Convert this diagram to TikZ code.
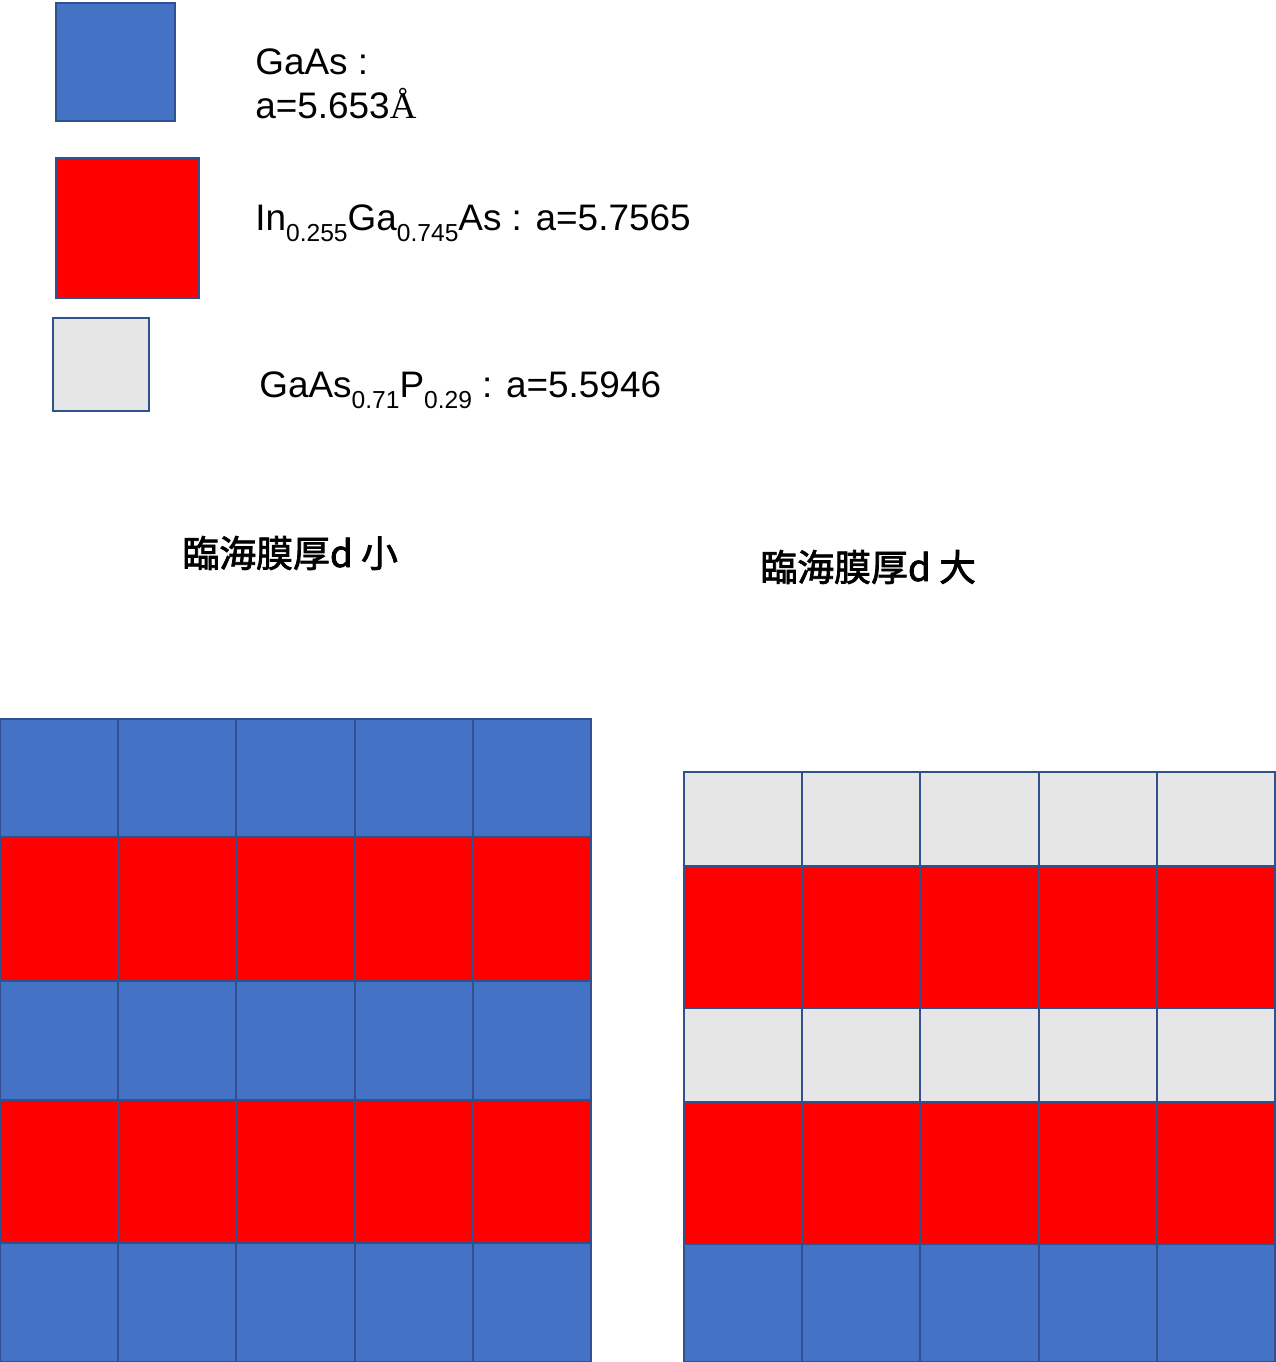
\documentclass[tikz,border=0pt]{standalone}
\usepackage{fontspec}
\setmainfont{Liberation Sans}
\newfontfamily\cjkfont{Noto Sans CJK JP}[FakeBold=2]
\newfontfamily\serfont{Liberation Serif}
\definecolor{gaasblue}{HTML}{4472C4}
\definecolor{ingaasred}{HTML}{FF0000}
\definecolor{gaaspgray}{HTML}{E6E6E6}
\definecolor{edgeblue}{HTML}{2F528F}
\newcommand{\lowidx}[1]{\raisebox{-0.3em}{\fontsize{14}{14}\selectfont #1}}
\begin{document}
\begin{tikzpicture}[x=0.02cm,y=-0.02cm,
  cell/.style={draw=edgeblue,line width=1.1pt},
  lbl/.style={anchor=base west,inner sep=0pt,font=\fontsize{21}{24}\selectfont},
  head/.style={anchor=base west,inner sep=0pt,font=\fontsize{21}{24}\selectfont\cjkfont}]
  \useasboundingbox (0,0) rectangle (1275,1362);
  % legend
  \draw[cell,fill=gaasblue] (56,3) rectangle (175,121);
  \draw[cell,fill=ingaasred] (56,158) rectangle (199,298);
  \draw[cell,fill=gaaspgray] (53,318) rectangle (149,411);
  \node[lbl] (gaas) at (255,75) {GaAs :};
  \node[lbl] (gaas-a) at (255,118) {a=5.653{\serfont Å}};
  \node[lbl] (ingaas) at (255,230) {In\lowidx{0.255}Ga\lowidx{0.745}As : a=5.7565};
  \node[lbl] (gaasp) at (259,397) {GaAs\lowidx{0.71}P\lowidx{0.29} : a=5.5946};
  % headings
  \node[head] (thin) at (182,567) {臨海膜厚d 小};
  \node[head] (thick) at (760,581) {臨海膜厚d 大};
  % small thickness: GaAs / InGaAs stack
  \foreach \top/\bot/\col in {719/837/gaasblue, 837/981/ingaasred, 981/1100/gaasblue,
      1100/1243/ingaasred, 1243/1362/gaasblue}
    \foreach \i in {0,...,4}
      \draw[cell,fill=\col] ({118.2*\i},\top) rectangle ({118.2*(\i+1)},\bot);
  % large thickness: GaAsP / InGaAs stack
  \foreach \top/\bot/\col in {772/866/gaaspgray, 866/1008/ingaasred, 1008/1102/gaaspgray,
      1102/1244/ingaasred, 1244/1362/gaasblue}
    \foreach \i in {0,...,4}
      \draw[cell,fill=\col] ({684+118.2*\i},\top) rectangle ({684+118.2*(\i+1)},\bot);
\end{tikzpicture}
\end{document}
